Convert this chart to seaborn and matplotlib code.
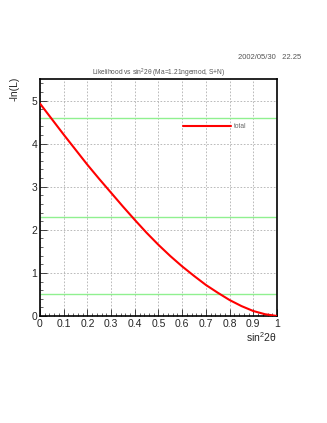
import pandas as pd
import matplotlib
matplotlib.use("Agg")
import matplotlib.pyplot as plt
from matplotlib.ticker import MultipleLocator
import seaborn as sns

# curve
sin2 = [0.00, 0.05, 0.10, 0.15, 0.20, 0.25, 0.30, 0.35, 0.40, 0.45, 0.50,
        0.55, 0.60, 0.65, 0.70, 0.75, 0.80, 0.85, 0.90, 0.95, 1.00]
neg_lnl = [4.93, 4.57, 4.21, 3.86, 3.51, 3.18, 2.86, 2.54, 2.23, 1.93, 1.65,
           1.39, 1.15, 0.93, 0.72, 0.54, 0.37, 0.23, 0.115, 0.04, 0.00]

# horizontal reference levels
levels = [4.6, 2.3, 0.5]

x_ticks = [0, 0.1, 0.2, 0.3, 0.4, 0.5, 0.6, 0.7, 0.8, 0.9, 1]
x_labels = ["0", "0.1", "0.2", "0.3", "0.4", "0.5", "0.6", "0.7", "0.8", "0.9", "1"]
y_ticks = [0, 1, 2, 3, 4, 5]

df = pd.DataFrame({"sin2": sin2, "nll": neg_lnl, "series": "total"})

sns.set_style("white")
plt.rcParams["font.family"] = ["Liberation Sans", "DejaVu Sans"]
plt.rcParams["mathtext.default"] = "regular"

fig = plt.figure(figsize=(3.27, 4.23), dpi=100)
ax = fig.add_axes([0.1223, 0.253, 0.7248, 0.5602])

for lv in levels:
    ax.axhline(lv, color="#90f090", lw=1.0, zorder=2)

sns.lineplot(data=df, x="sin2", y="nll", hue="series", palette=["#ff0000"],
             lw=1.5, ax=ax, zorder=3)

ax.set_xlim(0, 1)
ax.set_ylim(0, 5.5)
ax.set_xticks(x_ticks)
ax.set_xticklabels(x_labels)
ax.set_yticks(y_ticks)
ax.xaxis.set_minor_locator(MultipleLocator(0.02))
ax.yaxis.set_minor_locator(MultipleLocator(0.2))
ax.tick_params(axis="both", which="major", direction="in", length=5,
               labelsize=7.5, pad=2, width=0.6)
ax.tick_params(axis="both", which="minor", direction="in", length=2.5, width=0.5)
ax.tick_params(axis="x", which="both", bottom=True)
ax.tick_params(axis="y", which="both", left=True)
ax.grid(True, which="major", ls=(0, (2, 2)), color="#b0b0b0", lw=0.6)
for s in ax.spines.values():
    s.set_color("black")
    s.set_linewidth(1.2)

ax.set_xlabel("")
ax.set_ylabel("")
fig.text(0.846, 0.204, "sin$^{2}$2θ", ha="right", va="center", fontsize=7.5)
fig.text(0.045, 0.79, "-ln(L)", rotation=90, ha="center", va="center", fontsize=7.5)
fig.text(0.485, 0.826, "Likelihood vs sin$^{2}$2θ (Ma=1.21ngemod, S+N)",
         ha="center", va="center", fontsize=4.8, color="#555555")
fig.text(0.92, 0.863, "2002/05/30   22.25", ha="right", va="center",
         fontsize=5.5, color="#555555")

leg = ax.legend(loc="center left", bbox_to_anchor=(0.58, 0.8), frameon=False,
                handlelength=7.2, handletextpad=0.35, fontsize=4.8)
for t in leg.get_texts():
    t.set_color("#666666")

fig.savefig("out.png", dpi=100, facecolor="white")
